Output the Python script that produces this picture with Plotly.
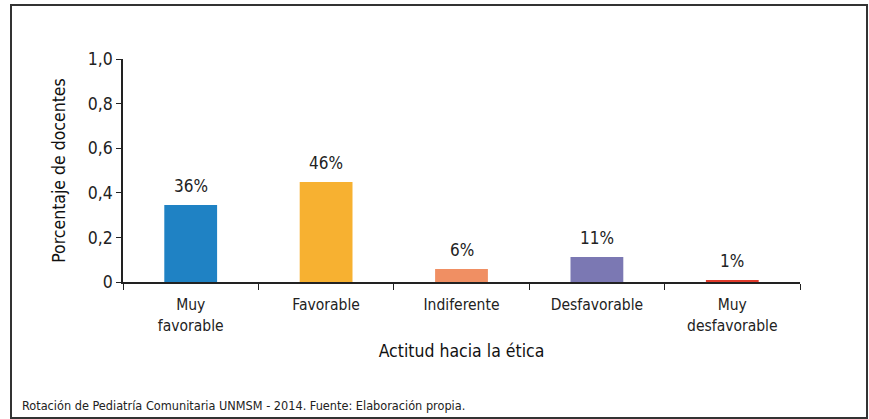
import plotly.graph_objects as go

categories = ["Muy<br>favorable", "Favorable", "Indiferente", "Desfavorable", "Muy<br>desfavorable"]
values = [0.345, 0.448, 0.058, 0.112, 0.009]
labels = ["36%", "46%", "6%", "11%", "1%"]
colors = ["#1f82c4", "#f7b131", "#f08f63", "#7b78b3", "#e03a2b"]
ytick_vals = [0, 0.2, 0.4, 0.6, 0.8, 1.0]
ytick_text = ["0", "0,2", "0,4", "0,6", "0,8", "1,0"]

FONT = "DejaVu Sans Condensed, Liberation Sans Narrow, Arial Narrow, sans-serif"
W, H = 869, 419
L, R, T, B = 123, 69, 59, 137
pw, ph = W - L - R, H - T - B

def px_x(x):
    return (x - L) / pw

def px_y(y):
    return (H - B - y) / ph

fig = go.Figure()
fig.add_trace(go.Bar(x=categories, y=values, marker=dict(color=colors, line=dict(width=0)),
                     hoverinfo="skip"))

for c, v, t in zip(categories, values, labels):
    fig.add_annotation(x=c, y=v, text=t, showarrow=False, yanchor="bottom", yshift=7,
                       font=dict(family=FONT, size=17, color="#222"))

fig.add_annotation(xref="paper", yref="paper", x=px_x(20), y=px_y(405), xanchor="left",
                   yanchor="middle", showarrow=False,
                   text="Rotación de Pediatría Comunitaria UNMSM - 2014. Fuente: Elaboración propia.",
                   font=dict(family=FONT, size=12.6, color="#222"))

fig.add_shape(type="rect", xref="paper", yref="paper", x0=px_x(11), x1=px_x(867),
              y0=px_y(418), y1=px_y(5), line=dict(color="#333", width=2))

fig.update_layout(
    width=W, height=H, margin=dict(l=L, r=R, t=T, b=B, autoexpand=False),
    paper_bgcolor="white", plot_bgcolor="white", showlegend=False,
    bargap=0.61, font=dict(family=FONT, color="#222"),
    xaxis=dict(showline=True, linecolor="#222", linewidth=1.5, ticks="outside", ticklen=6,
               tickcolor="#222", tickwidth=1.2, tickson="boundaries", showgrid=False,
               ticklabelstandoff=8,
               tickfont=dict(family=FONT, size=15.5, color="#222"),
               title=dict(text="Actitud hacia la ética", font=dict(family=FONT, size=17.5, color="#111"),
                          standoff=11)),
    yaxis=dict(range=[0, 1], showline=True, linecolor="#222", linewidth=1.5, ticks="outside",
               ticklen=5, tickcolor="#222", tickwidth=1.2, tickvals=ytick_vals, ticktext=ytick_text,
               showgrid=False, zeroline=False,
               tickfont=dict(family=FONT, size=17.5, color="#222"),
               title=dict(text="Porcentaje de docentes", font=dict(family=FONT, size=17.5, color="#111"),
                          standoff=18)),
)

fig.write_html("out.html", config={"displayModeBar": False})
with open("out.html", encoding="utf-8") as f:
    html = f.read()
html = html.replace("<body>", '<body style="margin:0;padding:0">', 1)
with open("out.html", "w", encoding="utf-8") as f:
    f.write(html)
